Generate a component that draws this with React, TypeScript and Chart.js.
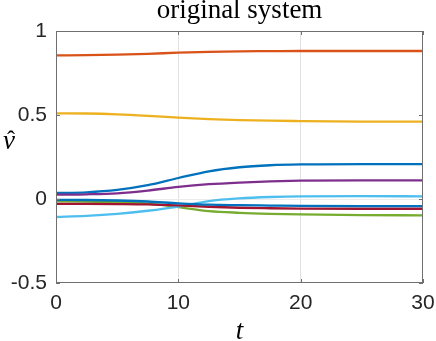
import React, { useEffect, useRef } from "react";
import { Chart, registerables } from "chart.js";

Chart.register(...registerables);

// sample times
const tValues = [0, 2.5, 5, 7.5, 10, 12.5, 15, 17.5, 20, 25, 30];

// series (MATLAB default colour order)
const seriesBlue = [0.036, 0.040, 0.054, 0.082, 0.125, 0.165, 0.189, 0.201, 0.206, 0.208, 0.208];
const seriesOrange = [0.855, 0.856, 0.859, 0.864, 0.871, 0.876, 0.879, 0.880, 0.881, 0.881, 0.881];
const seriesYellow = [0.510, 0.509, 0.504, 0.495, 0.484, 0.476, 0.470, 0.466, 0.464, 0.461, 0.460];
const seriesPurple = [0.026, 0.028, 0.034, 0.050, 0.072, 0.088, 0.098, 0.105, 0.109, 0.111, 0.111];
const seriesGreen = [-0.014, -0.015, -0.019, -0.028, -0.048, -0.072, -0.082, -0.088, -0.092, -0.096, -0.097];
const seriesLightBlue = [-0.107, -0.101, -0.089, -0.070, -0.045, -0.012, 0.004, 0.012, 0.016, 0.017, 0.016];
const seriesRed = [-0.029, -0.029, -0.030, -0.032, -0.038, -0.046, -0.052, -0.055, -0.057, -0.058, -0.058];
const seriesBlue2 = [-0.005, -0.006, -0.009, -0.015, -0.026, -0.034, -0.037, -0.039, -0.041, -0.042, -0.042];

const allSeries = [seriesBlue, seriesOrange, seriesYellow, seriesPurple, seriesGreen, seriesLightBlue, seriesRed, seriesBlue2];
const seriesColors = ["#0072BD", "#D95319", "#EDB120", "#7E2F8E", "#77AC30", "#4DBEEE", "#A2142F", "#0072BD"];

const xTicks = [0, 10, 20, 30];
const yTicks = [-0.5, 0, 0.5, 1];
const xTickLabels = ["0", "10", "20", "30"];
const yTickLabels = ["-0.5", "0", "0.5", "1"];

const titleText = "original system";
const xLabelText = "t";
const yLabelText = "v";
const yLabelHat = "ˆ";

const AXIS_COLOR = "#707070";
const TEXT_COLOR = "#262626";

const decorPlugin = {
  id: "decor",
  afterDatasetsDraw(chart: any) {
    const { ctx, chartArea } = chart;
    const { left, right, top, bottom } = chartArea;
    const xs = chart.scales.x;
    const ys = chart.scales.y;
    ctx.save();
    ctx.strokeStyle = AXIS_COLOR;
    ctx.lineWidth = 1;
    ctx.strokeRect(left + 0.5, top + 0.5, right - left - 1, bottom - top - 1);
    const tl = 4;
    ctx.beginPath();
    for (const v of xTicks) {
      const px = Math.round(xs.getPixelForValue(v)) + 0.5;
      ctx.moveTo(px, bottom);
      ctx.lineTo(px, bottom - tl);
      ctx.moveTo(px, top);
      ctx.lineTo(px, top + tl);
    }
    for (const v of yTicks) {
      const py = Math.round(ys.getPixelForValue(v)) + 0.5;
      ctx.moveTo(left, py);
      ctx.lineTo(left + tl, py);
      ctx.moveTo(right, py);
      ctx.lineTo(right - tl, py);
    }
    ctx.stroke();
    ctx.restore();
  },
  afterDraw(chart: any) {
    const { ctx, chartArea } = chart;
    const { left, right } = chartArea;
    const cx = (left + right) / 2;
    ctx.save();
    ctx.fillStyle = "#000";
    ctx.textAlign = "center";
    ctx.textBaseline = "alphabetic";
    ctx.font = "27px 'Liberation Serif'";
    ctx.fillText(titleText, cx, 18);
    ctx.font = "italic 27px 'Liberation Serif'";
    ctx.fillText(xLabelText, cx, 339);
    ctx.font = "italic 27px 'Liberation Serif'";
    ctx.fillText(yLabelText, 9, 149);
    ctx.font = "24px 'Liberation Serif'";
    ctx.fillText(yLabelHat, 11, 147);
    ctx.restore();
  },
};

export default function App() {
  const canvasRef = useRef<HTMLCanvasElement | null>(null);

  useEffect(() => {
    document.body.style.margin = "0";
    const canvas = canvasRef.current;
    if (!canvas) return;
    const datasets = allSeries.map((s, i) => ({
      data: tValues.map((t, j) => ({ x: t, y: s[j] })),
      borderColor: seriesColors[i],
      backgroundColor: seriesColors[i],
      borderWidth: 2.3,
      pointRadius: 0,
      cubicInterpolationMode: "monotone" as const,
      fill: false,
      order: allSeries.length - i,
    }));
    const tickFont = { family: "'Liberation Sans', Arial, sans-serif", size: 21 };
    const chart = new Chart(canvas, {
      type: "line",
      data: { datasets },
      plugins: [decorPlugin],
      options: {
        animation: false,
        responsive: false,
        devicePixelRatio: 1,
        layout: { padding: { top: 31, right: 13, left: 0, bottom: 0 } },
        plugins: { legend: { display: false }, tooltip: { enabled: false }, title: { display: false } },
        scales: {
          x: {
            type: "linear",
            min: 0,
            max: 30,
            afterBuildTicks: (scale: any) => {
              scale.ticks = xTicks.map((v) => ({ value: v }));
            },
            afterFit: (scale: any) => {
              scale.height = 58;
              scale.paddingLeft = 0;
              scale.paddingRight = 0;
            },
            ticks: {
              padding: 8,
              color: TEXT_COLOR,
              font: tickFont,
              maxRotation: 0,
              autoSkip: false,
              callback: (v: any) => {
                const i = xTicks.indexOf(Number(v));
                return i >= 0 ? xTickLabels[i] : "";
              },
            },
            grid: {
              drawTicks: false,
              color: (c: any) => (c.tick && (c.tick.value === 10 || c.tick.value === 20) ? "#e2e2e2" : "rgba(0,0,0,0)"),
              lineWidth: 1,
            },
            border: { display: false },
          },
          y: {
            type: "linear",
            min: -0.5,
            max: 1,
            afterBuildTicks: (scale: any) => {
              scale.ticks = yTicks.map((v) => ({ value: v }));
            },
            afterFit: (scale: any) => {
              scale.width = 56;
              scale.paddingTop = 0;
              scale.paddingBottom = 0;
            },
            ticks: {
              padding: 9,
              color: TEXT_COLOR,
              font: tickFont,
              autoSkip: false,
              callback: (v: any) => {
                const i = yTicks.indexOf(Number(v));
                return i >= 0 ? yTickLabels[i] : "";
              },
            },
            grid: {
              drawTicks: false,
              color: (c: any) => (c.tick && c.tick.value === 0 ? "#ececec" : "rgba(0,0,0,0)"),
              lineWidth: 1,
            },
            border: { display: false },
          },
        },
      },
    });
    return () => chart.destroy();
  }, []);

  return (
    <div style={{ position: "fixed", left: 0, top: 0, width: 436, height: 341 }}>
      <canvas ref={canvasRef} width={436} height={341} style={{ width: 436, height: 341, display: "block" }} />
    </div>
  );
}
